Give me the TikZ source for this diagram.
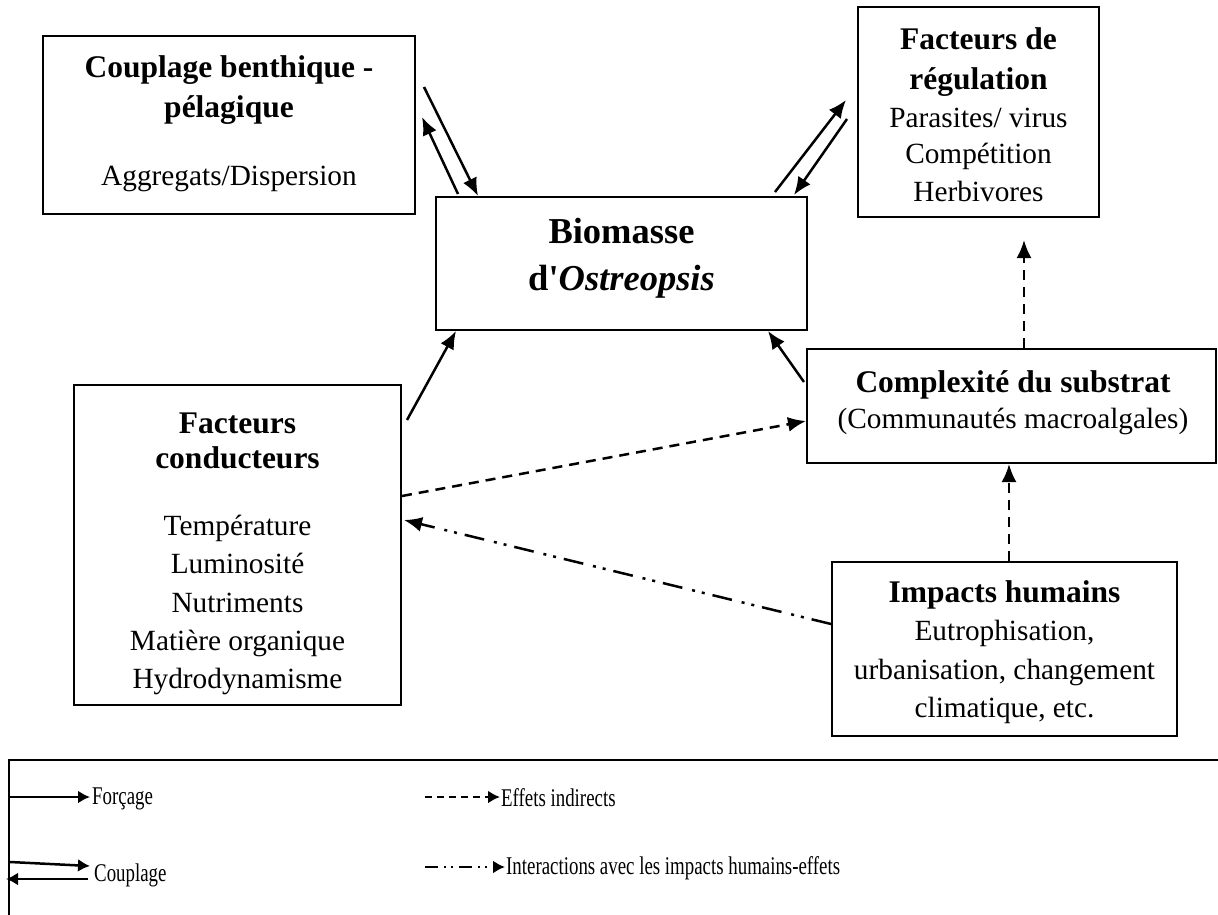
\documentclass[tikz,border=0pt]{standalone}
\usepackage{fontspec}
\setmainfont{Liberation Serif}
\newfontfamily\legfont[FakeStretch=0.74]{Liberation Serif}
\usetikzlibrary{arrows.meta,calc}
\begin{document}
\begin{tikzpicture}[x=1pt,y=-1pt,
  box/.style={draw, line width=2pt, inner sep=0pt},
  tx/.style={anchor=base, inner sep=0pt, font=\fontsize{29.3}{35}\selectfont},
  hd/.style={anchor=base, inner sep=0pt, font=\fontsize{31.5}{35}\selectfont\bfseries},
  bg/.style={anchor=base, inner sep=0pt, font=\fontsize{36.5}{40}\selectfont\bfseries},
  lg/.style={anchor=west, inner sep=0pt, font=\legfont\fontsize{25.5}{28}\selectfont},
  force/.style={line width=2.5pt, -{Latex[length=18pt,width=15pt]}},
  ind/.style={force, dash pattern=on 10pt off 7pt},
  hum/.style={force, dash pattern=on 20pt off 8pt on 3pt off 7pt on 3pt off 10pt},
  lforce/.style={line width=2.5pt, -{Latex[length=12pt,width=13pt]}},
  lind/.style={lforce, dash pattern=on 7pt off 5pt},
  lhum/.style={lforce, dash pattern=on 13pt off 6pt on 2pt off 5pt on 2pt off 6pt}]
\useasboundingbox (0,0) rectangle (1218,915);
\clip (0,0) rectangle (1218,915);

% boxes
\node[box, minimum width=372pt, minimum height=178pt] (coup) at (229,125) {};
\node[box, minimum width=241pt, minimum height=210pt] (reg) at (978.5,112) {};
\node[box, minimum width=371pt, minimum height=133pt] (bio) at (621.5,263.5) {};
\node[box, minimum width=409pt, minimum height=114pt] (comp) at (1011.5,406) {};
\node[box, minimum width=327pt, minimum height=320pt] (cond) at (237.5,545) {};
\node[box, minimum width=345pt, minimum height=174pt] (imp) at (1004.5,649) {};
\node[box, minimum width=1260pt, minimum height=200pt, anchor=north west] (leg) at (8,759) {};

% texts
\node[hd] (coupA) at (229,78) {Couplage benthique -};
\node[hd] (coupB) at (229,118) {pélagique};
\node[tx] (coupC) at (229,185) {Aggregats/Dispersion};

\node[hd] (regA) at (978.5,50) {Facteurs de};
\node[hd] (regB) at (978.5,90) {régulation};
\node[tx] (regC) at (978.5,128) {Parasites/ virus};
\node[tx] (regD) at (978.5,164) {Compétition};
\node[tx] (regE) at (978.5,201) {Herbivores};

\node[bg] (bioA) at (621.5,243) {Biomasse};
\node[bg] (bioB) at (621.5,290) {d\textquotesingle\textit{Ostreopsis}};

\node[hd] (compA) at (1013,392) {Complexité du substrat};
\node[tx] (compB) at (1013,428) {(Communautés macroalgales)};

\node[hd] (condA) at (237.5,433) {Facteurs};
\node[hd] (condB) at (237.5,468) {conducteurs};
\node[tx] (condC) at (237.5,535) {Température};
\node[tx] (condD) at (237.5,573) {Luminosité};
\node[tx] (condE) at (237.5,612) {Nutriments};
\node[tx] (condF) at (237.5,650) {Matière organique};
\node[tx] (condG) at (237.5,688) {Hydrodynamisme};

\node[hd] (impA) at (1004.5,602) {Impacts humains};
\node[tx] (impB) at (1004.5,640) {Eutrophisation,};
\node[tx] (impC) at (1004.5,679) {urbanisation, changement};
\node[tx] (impD) at (1004.5,717) {climatique, etc.};

% connectors
\draw[force] ($(coup.north east)+(8,52)$) -- ($(bio.north west)+(43,0)$);
\draw[force] ($(bio.north west)+(23,-2)$) -- ($(coup.north east)+(6,82)$);
\draw[force] ($(bio.north east)+(-33,-4)$) -- ($(reg.north west)+(-11,94)$);
\draw[force] ($(reg.north west)+(-10,113)$) -- ($(bio.north east)+(-14,-1)$);
\draw[force] ($(cond.north east)+(5,36)$) -- ($(bio.south west)+(21,0)$);
\draw[force] ($(comp.north west)+(-2,34)$) -- ($(bio.south east)+(-40,0)$);
\draw[ind] ($(cond.north east)+(0,112)$) -- ($(comp.north west)+(0,73)$);
\draw[hum] ($(imp.north west)+(0,63)$) -- ($(cond.north east)+(2,136)$);
\draw[ind] ($(imp.north west)+(178,0)$) -- ($(comp.south west)+(203,0)$);
\draw[ind] ($(comp.north west)+(218,0)$) -- ($(reg.south west)+(167,22)$);

% legend
\coordinate (l1a) at ($(leg.north west)+(2,38)$);
\coordinate (l1b) at ($(leg.north west)+(82,38)$);
\coordinate (l2a) at ($(leg.north west)+(2,103)$);
\coordinate (l2b) at ($(leg.north west)+(82,107)$);
\coordinate (l2c) at ($(leg.north west)+(80,120)$);
\coordinate (l2d) at ($(leg.north west)+(-2,120)$);
\coordinate (l3a) at ($(leg.north west)+(417,38)$);
\coordinate (l3b) at ($(leg.north west)+(492,38)$);
\coordinate (l4a) at ($(leg.north west)+(417,108)$);
\coordinate (l4b) at ($(leg.north west)+(497,108)$);
\draw[lforce] (l1a) -- (l1b);
\node[lg] (lt1) at ($(l1b)+(2,2)$) {Forçage};
\draw[lforce] (l2a) -- (l2b);
\draw[lforce] (l2c) -- (l2d);
\node[lg] (lt2) at ($(leg.north west)+(86,116)$) {Couplage};
\draw[lind] (l3a) -- (l3b);
\node[lg] (lt3) at ($(l3b)+(1,1)$) {Effets indirects};
\draw[lhum] (l4a) -- (l4b);
\node[lg] (lt4) at ($(l4b)+(1,1)$) {Interactions avec les impacts humains-effets};
\end{tikzpicture}
\end{document}
